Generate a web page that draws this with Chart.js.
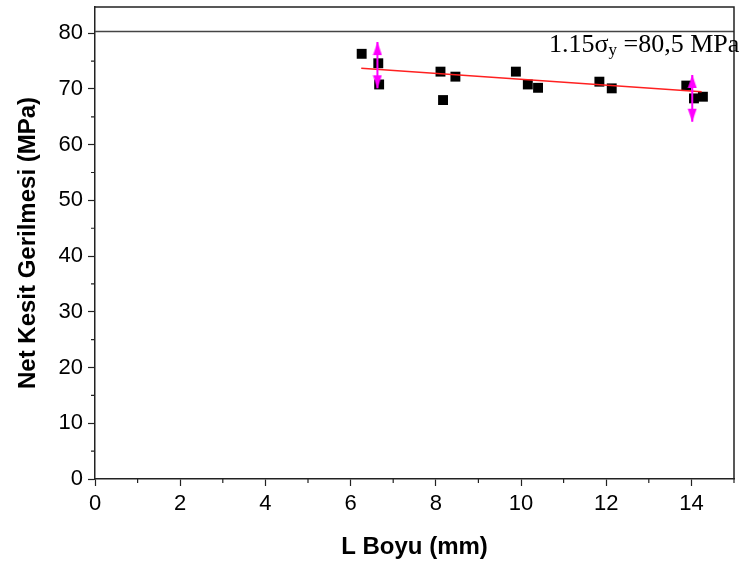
<!DOCTYPE html>
<html>
<head>
<meta charset="utf-8">
<script src="https://cdn.jsdelivr.net/npm/chart.js@4.4.1/dist/chart.umd.min.js"></script>
<style>
  html, body { margin: 0; padding: 0; background: #ffffff; }
  #wrap { width: 741px; height: 567px; position: relative; }
</style>
</head>
<body>
<div id="wrap"><canvas id="chart"></canvas></div>
<script>
// measured points (L Boyu mm, net section stress MPa)
const lengthMm = [6.26, 6.65, 6.67, 8.11, 8.17, 8.46, 9.88, 10.16, 10.40, 11.84, 12.13, 13.88, 14.06, 14.27];
const stressMpa = [76.3, 74.6, 70.8, 73.1, 68.0, 72.2, 73.1, 70.8, 70.2, 71.3, 70.1, 70.6, 68.3, 68.6];

// red fit line end points
const fitX = [6.25, 14.24];
const fitY = [73.7, 69.5];

// magenta scatter bars
const errX = [6.63, 14.02];
const errHigh = [78.4, 72.5];
const errLow = [70.1, 64.1];

// 1.15 sigma_y reference
const refX = [0, 15];
const refY = 80.3;

const xTicks = [0, 2, 4, 6, 8, 10, 12, 14];
const xMinor = [1, 3, 5, 7, 9, 11, 13, 15];
const yTicks = [0, 10, 20, 30, 40, 50, 60, 70, 80];
const yMinor = [5, 15, 25, 35, 45, 55, 65, 75];

// arrow head used as point style, tip sits at canvas centre
function makeArrow() {
  const c = document.createElement("canvas");
  c.width = 10;
  c.height = 28;
  const g = c.getContext("2d");
  g.fillStyle = "#ff00ff";
  g.beginPath();
  g.moveTo(5, 14);
  g.lineTo(9.5, 27);
  g.lineTo(0.5, 27);
  g.closePath();
  g.fill();
  return c;
}
const arrow = makeArrow();

const errorSets = errX.map((x, i) => ({
  type: "line",
  data: [{ x: x, y: errHigh[i] }, { x: x, y: errLow[i] }],
  borderColor: "#ff00ff",
  borderWidth: 2,
  pointStyle: arrow,
  pointRotation: [0, 180],
  pointRadius: 5,
  fill: false
}));

const frameAndText = {
  id: "frameAndText",
  afterDraw(chart) {
    const ctx = chart.ctx;
    const a = chart.chartArea;
    const xs = chart.scales.x;
    const ys = chart.scales.y;
    ctx.save();
    ctx.strokeStyle = "#222";
    ctx.lineWidth = 1.5;
    ctx.beginPath();
    ctx.moveTo(a.left, a.top);
    ctx.lineTo(a.right, a.top);
    ctx.lineTo(a.right, a.bottom);
    ctx.stroke();

    // minor ticks
    ctx.lineWidth = 1.2;
    ctx.beginPath();
    xMinor.forEach((v) => {
      const px = xs.getPixelForValue(v);
      ctx.moveTo(px, a.bottom);
      ctx.lineTo(px, a.bottom + 4);
    });
    yMinor.forEach((v) => {
      const py = ys.getPixelForValue(v);
      ctx.moveTo(a.left, py);
      ctx.lineTo(a.left - 4, py);
    });
    ctx.stroke();

    // annotation text
    let tx = 549;
    const base = 52;
    ctx.fillStyle = "#000";
    ctx.textBaseline = "alphabetic";
    ctx.textAlign = "left";
    ctx.font = "26px 'Liberation Serif', 'Times New Roman', serif";
    const s1 = "1.15\u03c3";
    ctx.fillText(s1, tx, base);
    tx += ctx.measureText(s1).width;
    ctx.font = "17px 'Liberation Serif', 'Times New Roman', serif";
    ctx.fillText("y", tx, base + 3);
    tx += ctx.measureText("y").width;
    ctx.font = "26px 'Liberation Serif', 'Times New Roman', serif";
    ctx.fillText(" =80,5 MPa", tx, base);
    ctx.restore();
  }
};

new Chart(document.getElementById("chart"), {
  type: "scatter",
  data: {
    datasets: [
      ...errorSets,
      {
        type: "line",
        data: fitX.map((x, i) => ({ x: x, y: fitY[i] })),
        borderColor: "#ff2020",
        borderWidth: 1.5,
        pointRadius: 0,
        fill: false
      },
      {
        data: lengthMm.map((x, i) => ({ x: x, y: stressMpa[i] })),
        pointStyle: "rect",
        pointRadius: 7,
        backgroundColor: "#000",
        borderColor: "#000",
        borderWidth: 0
      },
      {
        type: "line",
        data: refX.map((x) => ({ x: x, y: refY })),
        borderColor: "#444",
        borderWidth: 1.5,
        pointRadius: 0,
        fill: false
      }
    ]
  },
  options: {
    responsive: true,
    maintainAspectRatio: false,
    animation: false,
    events: [],
    layout: { padding: { top: 7, right: 4, left: 0, bottom: 0 } },
    plugins: {
      legend: { display: false },
      tooltip: { enabled: false }
    },
    scales: {
      x: {
        type: "linear",
        min: 0,
        max: 15,
        afterBuildTicks: (s) => { s.ticks = xTicks.map((v) => ({ value: v })); },
        afterFit: (s) => { s.height = 88; s.paddingLeft = 0; s.paddingRight = 0; },
        grid: { drawOnChartArea: false, tickLength: 7, tickColor: "#222", tickWidth: 1.2 },
        border: { color: "#222", width: 1.5 },
        ticks: {
          color: "#000",
          padding: 5,
          maxRotation: 0,
          font: { family: "'Liberation Sans', Arial, sans-serif", size: 22 }
        },
        title: {
          display: true,
          text: "L Boyu (mm)",
          color: "#000",
          padding: { top: 0, bottom: 5 },
          font: { family: "'Liberation Sans', Arial, sans-serif", size: 24, weight: "bold" }
        }
      },
      y: {
        type: "linear",
        min: 0,
        max: 84.7,
        afterBuildTicks: (s) => { s.ticks = yTicks.map((v) => ({ value: v })); },
        afterFit: (s) => { s.width = 95; s.paddingTop = 0; s.paddingBottom = 0; },
        grid: { drawOnChartArea: false, tickLength: 7, tickColor: "#222", tickWidth: 1.2 },
        border: { color: "#222", width: 1.5 },
        ticks: {
          color: "#000",
          padding: 5,
          font: { family: "'Liberation Sans', Arial, sans-serif", size: 22 }
        },
        title: {
          display: true,
          text: "Net Kesit Gerilmesi (MPa)",
          color: "#000",
          padding: { top: 14, bottom: 0 },
          font: { family: "'Liberation Sans', Arial, sans-serif", size: 24, weight: "bold" }
        }
      }
    }
  },
  plugins: [frameAndText]
});
</script>
</body>
</html>
